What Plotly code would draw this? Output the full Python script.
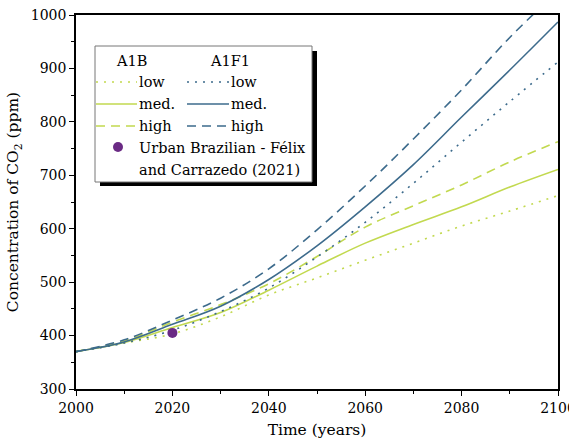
import plotly.graph_objects as go

years = [2000, 2010, 2020, 2030, 2040, 2050, 2060, 2070, 2080, 2090, 2100]

a1b_low = [370, 386, 403, 435, 476, 508, 541, 573, 605, 633, 662]
a1b_med = [370, 387, 415, 443, 485, 530, 573, 608, 641, 678, 711]
a1b_high = [370, 390, 425, 458, 497, 548, 603, 643, 682, 725, 763]

a1f1_low = [370, 386, 410, 445, 489, 547, 612, 685, 762, 838, 912]
a1f1_med = [370, 388, 421, 455, 505, 568, 641, 720, 809, 897, 987]
a1f1_high = [370, 392, 429, 470, 525, 598, 680, 768, 860, 958, 1045]

point_year = [2020]
point_value = [405]

x_ticks = [2000, 2020, 2040, 2060, 2080, 2100]
y_ticks = [300, 400, 500, 600, 700, 800, 900, 1000]

GREEN = "#c2d94f"
BLUE = "#3d6b8c"
PURPLE = "#6a2a84"
FONT = "DejaVu Serif"

DOT = "2px,6px"
DASH = "9px,6px"

fig = go.Figure()
series = [
    (a1b_low, GREEN, DOT), (a1b_med, GREEN, "solid"), (a1b_high, GREEN, DASH),
    (a1f1_low, BLUE, DOT), (a1f1_med, BLUE, "solid"), (a1f1_high, BLUE, DASH),
]
for vals, col, dash in series:
    fig.add_trace(go.Scatter(x=years, y=vals, mode="lines", line_shape="spline",
                             line=dict(color=col, width=1.6, dash=dash),
                             showlegend=False, hoverinfo="skip"))
fig.add_trace(go.Scatter(x=point_year, y=point_value, mode="markers",
                         marker=dict(color=PURPLE, size=10), showlegend=False))

L, R, T, B = 76, 558, 15, 389
W, H = R - L, B - T
def px(x):
    return (x - L) / W
def py(y):
    return (B - y) / H

shapes = []
shapes.append(dict(type="rect", xref="paper", yref="paper", x0=px(100), x1=px(317), y0=py(186), y1=py(51),
                   fillcolor="black", line=dict(width=0), layer="above"))
shapes.append(dict(type="rect", xref="paper", yref="paper", x0=px(95), x1=px(312), y0=py(182), y1=py(46),
                   fillcolor="white", line=dict(color="#777777", width=1), layer="above"))
annotations = []
def text(x, y, s, size=14.5):
    annotations.append(dict(x=px(x), y=py(y), xref="paper", yref="paper", text=s, showarrow=False,
                            xanchor="left", yanchor="middle", font=dict(family=FONT, size=size, color="black")))
text(114, 61, "A1B")
text(208, 61, "A1F1")
rows = [(82, DOT, "low"), (104, "solid", "med."), (126, DASH, "high")]
for yy, dash, lab in rows:
    shapes.append(dict(type="line", xref="paper", yref="paper", x0=px(96), x1=px(137), y0=py(yy), y1=py(yy),
                       line=dict(color=GREEN, width=1.6, dash=dash), layer="above"))
    shapes.append(dict(type="line", xref="paper", yref="paper", x0=px(187), x1=px(229), y0=py(yy), y1=py(yy),
                       line=dict(color=BLUE, width=1.6, dash=dash), layer="above"))
    text(137, yy, lab)
    text(229, yy, lab)
shapes.append(dict(type="circle", xref="paper", yref="paper", x0=px(113), x1=px(123), y0=py(152), y1=py(142),
                   fillcolor=PURPLE, line=dict(width=0), layer="above"))
text(137, 148, "Urban Brazilian - Félix")
text(137, 170, "and Carrazedo (2021)")

fig.update_layout(
    width=569, height=444,
    margin=dict(l=L, r=569 - R, t=T, b=444 - B),
    paper_bgcolor="white", plot_bgcolor="white",
    font=dict(family=FONT, size=14, color="black"),
    shapes=shapes, annotations=annotations,
    xaxis=dict(range=[2000, 2100], tickvals=x_ticks, automargin=False, ticklabeloverflow="allow",
               ticks="outside", ticklen=5, tickwidth=1.2, tickcolor="black",
               minor=dict(tickvals=[2010, 2030, 2050, 2070, 2090], ticks="outside", ticklen=3, tickcolor="black"),
               showline=True, linecolor="black", linewidth=1.5, mirror=True, showgrid=False, zeroline=False,
               title=dict(text="Time (years)", font=dict(size=15.5), standoff=10),
               tickfont=dict(size=14)),
    yaxis=dict(range=[300, 1000], tickvals=y_ticks, automargin=False,
               ticks="outside", ticklen=5, tickwidth=1.2, tickcolor="black",
               minor=dict(tickvals=[350, 450, 550, 650, 750, 850, 950], ticks="outside", ticklen=3, tickcolor="black"),
               showline=True, linecolor="black", linewidth=1.5, mirror=True, showgrid=False, zeroline=False,
               title=dict(text="Concentration of CO<sub>2</sub> (ppm)", font=dict(size=15.5), standoff=8),
               tickfont=dict(size=14)),
)
fig.write_html("out.html", config={"displayModeBar": False},
               post_script="document.body.style.margin='0px';")
